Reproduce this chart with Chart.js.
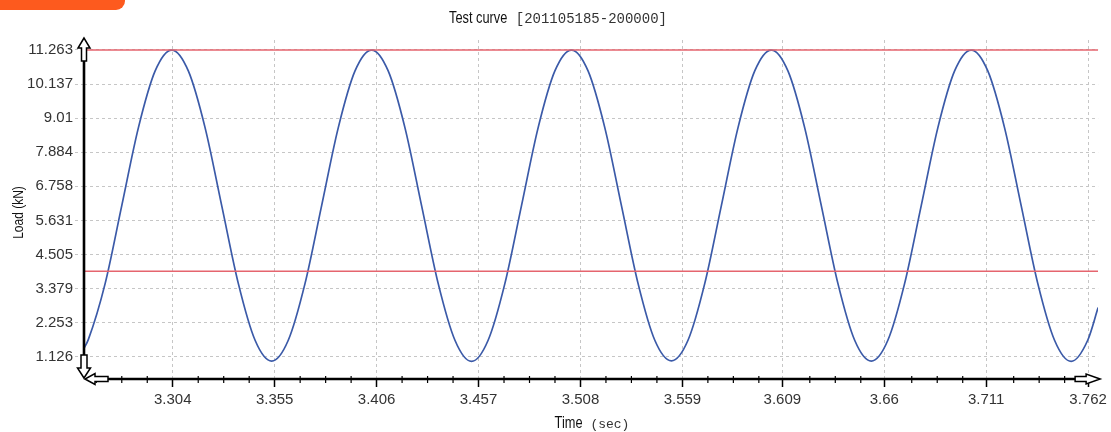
<!DOCTYPE html>
<html>
<head>
<meta charset="utf-8">
<script src="https://cdn.jsdelivr.net/npm/chart.js@4"></script>
<style>
  body { margin: 0; background: #fff; }
  #wrap { position: relative; width: 1111px; height: 432px; }
  #tab { position: absolute; left: 0; top: 0; width: 125px; height: 10px; background: #fd5a1e; border-bottom-right-radius: 9px; }
</style>
</head>
<body>
<div id="wrap">
  <canvas id="chart"></canvas>
  <div id="tab"></div>
</div>
<script>
const timeSec = [
  3.2596, 3.2618, 3.2702, 3.2785, 3.2868, 3.2952,
  3.3035, 3.3118, 3.3202, 3.3285, 3.3368, 3.3452,
  3.3535, 3.3618, 3.3702, 3.3785, 3.3868, 3.3952,
  3.4035, 3.4118, 3.4202, 3.4285, 3.4368, 3.4452,
  3.4535, 3.4618, 3.4702, 3.4785, 3.4868, 3.4952,
  3.5035, 3.5118, 3.5202, 3.5285, 3.5368, 3.5452,
  3.5535, 3.5618, 3.5702, 3.5785, 3.5868, 3.5952,
  3.6035, 3.6118, 3.6202, 3.6285, 3.6368, 3.6452,
  3.6535, 3.6618, 3.6702, 3.6785, 3.6868, 3.6952,
  3.7035, 3.7118, 3.7202, 3.7285, 3.7368, 3.7452,
  3.7535, 3.7618, 3.7670
];
const loadKN = [
  1.40, 1.70, 3.55, 6.12, 8.69, 10.57,
  11.26, 10.57, 8.69, 6.12, 3.55, 1.67,
  0.98, 1.67, 3.55, 6.12, 8.69, 10.57,
  11.26, 10.57, 8.69, 6.12, 3.55, 1.67,
  0.97, 1.67, 3.55, 6.12, 8.69, 10.57,
  11.26, 10.57, 8.69, 6.12, 3.55, 1.67,
  0.99, 1.67, 3.55, 6.12, 8.69, 10.57,
  11.26, 10.57, 8.69, 6.12, 3.55, 1.67,
  0.98, 1.67, 3.55, 6.12, 8.69, 10.57,
  11.26, 10.57, 8.69, 6.12, 3.55, 1.67,
  0.97, 1.67, 2.75
];
const limitLines = [11.263, 3.95];
const xTickValues = [3.304, 3.355, 3.406, 3.457, 3.508, 3.559, 3.609, 3.66, 3.711, 3.762];
const yTickValues = [1.126, 2.253, 3.379, 4.505, 5.631, 6.758, 7.884, 9.01, 10.137, 11.263];

const X_MIN = 3.2596, X_MAX = 3.767;
const Y_MIN = 0.389, Y_MAX = 11.593;

const SANS = '"Liberation Sans", Arial, sans-serif';
const MONO = '"Liberation Mono", "DejaVu Sans Mono", monospace';
const NARROW = 0.8;

function hollowArrow(ctx, x, y, angle, headLen, headW, shaftLen, shaftW) {
  ctx.save();
  ctx.translate(x, y);
  ctx.rotate(angle);
  ctx.beginPath();
  ctx.moveTo(0, 0);
  ctx.lineTo(-headLen, -headW / 2);
  ctx.lineTo(-headLen, -shaftW / 2);
  ctx.lineTo(-headLen - shaftLen, -shaftW / 2);
  ctx.lineTo(-headLen - shaftLen, shaftW / 2);
  ctx.lineTo(-headLen, shaftW / 2);
  ctx.lineTo(-headLen, headW / 2);
  ctx.closePath();
  ctx.fillStyle = '#fff';
  ctx.fill();
  ctx.lineWidth = 1.5;
  ctx.strokeStyle = '#000';
  ctx.stroke();
  ctx.restore();
}

// narrow sans word followed by a lighter mono part, centred on cx
function mixedLabel(ctx, a, sizeA, b, sizeB, cx, y) {
  ctx.save();
  ctx.textBaseline = 'alphabetic';
  ctx.textAlign = 'left';
  ctx.font = sizeA + 'px ' + SANS;
  const wa = ctx.measureText(a).width * NARROW;
  ctx.font = sizeB + 'px ' + MONO;
  const wb = ctx.measureText(b).width;
  const x0 = cx - (wa + wb) / 2;
  ctx.save();
  ctx.translate(x0, y);
  ctx.scale(NARROW, 1);
  ctx.font = sizeA + 'px ' + SANS;
  ctx.fillStyle = '#111';
  ctx.fillText(a, 0, 0);
  ctx.restore();
  ctx.font = sizeB + 'px ' + MONO;
  ctx.fillStyle = '#333';
  ctx.fillText(b, x0 + wa, y);
  ctx.restore();
}

const decorations = {
  id: 'decorations',
  afterDraw(chart) {
    const ctx = chart.ctx;
    const area = chart.chartArea;
    const xs = chart.scales.x;
    const left = area.left, bottom = area.bottom, right = area.right;

    ctx.save();
    // minor ticks on the time axis
    const minorStep = (xTickValues[1] - xTickValues[0]) / 4;
    ctx.strokeStyle = '#000';
    ctx.lineWidth = 1.2;
    for (let j = -3; j < 40; j++) {
      if (j % 4 === 0) continue;
      const v = xTickValues[0] + j * minorStep;
      if (v <= X_MIN || v >= X_MAX) continue;
      const px = xs.getPixelForValue(v);
      ctx.beginPath();
      ctx.moveTo(px, bottom - 3);
      ctx.lineTo(px, bottom + 4);
      ctx.stroke();
    }

    // axis lines
    ctx.lineWidth = 2.6;
    ctx.beginPath();
    ctx.moveTo(left, 60);
    ctx.lineTo(left, bottom - 23);
    ctx.moveTo(left + 24, bottom);
    ctx.lineTo(right - 23, bottom);
    ctx.stroke();
    ctx.restore();

    hollowArrow(ctx, left, 38, -Math.PI / 2, 10, 12, 13, 5);
    hollowArrow(ctx, left, bottom - 1, Math.PI / 2, 10, 13, 13, 6);
    hollowArrow(ctx, left + 1, bottom, Math.PI, 10, 11, 13, 5);
    hollowArrow(ctx, right + 2, bottom, 0, 14, 10, 11, 5);

    mixedLabel(ctx, 'Test curve', 16, ' [201105185-200000]', 14, 558, 23);
    mixedLabel(ctx, 'Time', 16, ' (sec)', 13, 592, 428);

    // y axis title, condensed like the others
    ctx.save();
    ctx.translate(23, (area.top + area.bottom) / 2 + 3);
    ctx.rotate(-Math.PI / 2);
    ctx.scale(NARROW, 1);
    ctx.font = '15px ' + SANS;
    ctx.fillStyle = '#111';
    ctx.textAlign = 'center';
    ctx.textBaseline = 'alphabetic';
    ctx.fillText('Load (kN)', 0, 0);
    ctx.restore();
  }
};

const gridGray = '#c6c6c6';

new Chart(document.getElementById('chart'), {
  type: 'line',
  data: {
    datasets: [
      ...limitLines.map((lv) => ({
        data: [{ x: X_MIN, y: lv }, { x: X_MAX, y: lv }],
        borderColor: '#e5656e',
        borderWidth: 1.6,
        pointRadius: 0,
        tension: 0
      })),
      {
        data: timeSec.map((t, i) => ({ x: t, y: loadKN[i] })),
        borderColor: '#3b5aa8',
        borderWidth: 1.7,
        pointRadius: 0,
        cubicInterpolationMode: 'monotone'
      }
    ]
  },
  options: {
    responsive: true,
    maintainAspectRatio: false,
    animation: false,
    layout: { padding: { top: 40, right: 11, left: 0, bottom: 0 } },
    plugins: {
      legend: { display: false },
      tooltip: { enabled: false },
      title: { display: false }
    },
    scales: {
      x: {
        type: 'linear',
        min: X_MIN,
        max: X_MAX,
        afterBuildTicks: (scale) => { scale.ticks = xTickValues.map((v) => ({ value: v })); },
        afterFit: (scale) => { scale.height = 53; },
        ticks: {
          autoSkip: false,
          maxRotation: 0,
          padding: 4,
          color: '#333',
          font: { family: SANS, size: 15 },
          callback: (v) => String(v)
        },
        grid: {
          color: gridGray,
          lineWidth: 1,
          tickLength: 8,
          tickColor: '#000',
          tickWidth: 1.5,
          tickBorderDash: []
        },
        border: { display: false, dash: [3, 3] }
      },
      y: {
        type: 'linear',
        min: Y_MIN,
        max: Y_MAX,
        afterBuildTicks: (scale) => { scale.ticks = yTickValues.map((v) => ({ value: v })); },
        afterFit: (scale) => { scale.width = 84; },
        ticks: {
          autoSkip: false,
          padding: 2,
          color: '#333',
          font: { family: SANS, size: 15 },
          callback: (v) => String(v)
        },
        grid: {
          color: gridGray,
          lineWidth: 1,
          tickLength: 9,
          tickColor: gridGray,
          tickBorderDash: [3, 3]
        },
        border: { display: false, dash: [3, 3] }
      }
    }
  },
  plugins: [decorations]
});
</script>
</body>
</html>
